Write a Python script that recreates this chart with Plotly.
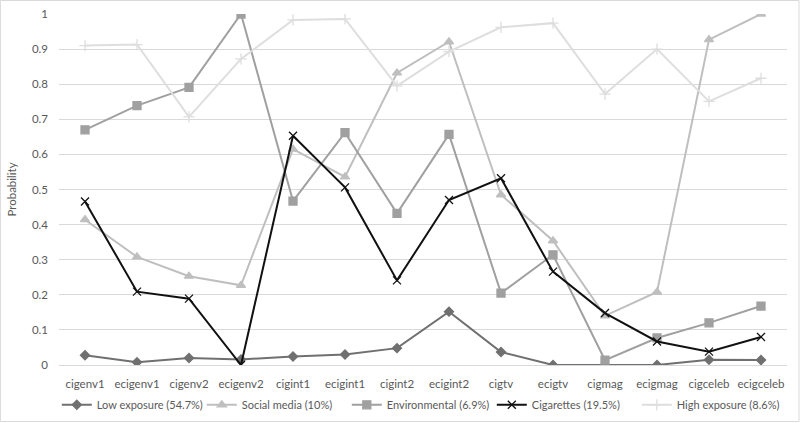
import plotly.graph_objects as go

# ─── Datos ───────────────────────────────────────────────────────────────
categorias = ["cigenv1", "ecigenv1", "cigenv2", "ecigenv2", "cigint1", "ecigint1",
              "cigint2", "ecigint2", "cigtv", "ecigtv", "cigmag", "ecigmag",
              "cigceleb", "ecigceleb"]

low_exposure  = [0.028, 0.008, 0.020, 0.016, 0.024, 0.030, 0.048, 0.152, 0.037, 0.0, 0.0, 0.0, 0.015, 0.014]
social_media  = [0.414, 0.308, 0.253, 0.227, 0.615, 0.536, 0.832, 0.921, 0.485, 0.354, 0.140, 0.208, 0.927, 1.0]
environmental = [0.670, 0.739, 0.791, 1.0, 0.467, 0.662, 0.432, 0.657, 0.205, 0.314, 0.014, 0.077, 0.120, 0.168]
cigarettes    = [0.466, 0.209, 0.189, 0.0, 0.653, 0.506, 0.241, 0.470, 0.532, 0.266, 0.148, 0.067, 0.038, 0.080]
high_exposure = [0.910, 0.913, 0.707, 0.872, 0.983, 0.986, 0.795, 0.893, 0.962, 0.974, 0.772, 0.900, 0.751, 0.817]

ticks_y = [0, 0.1, 0.2, 0.3, 0.4, 0.5, 0.6, 0.7, 0.8, 0.9, 1]
etiquetas_y = ["0", "0.1", "0.2", "0.3", "0.4", "0.5", "0.6", "0.7", "0.8", "0.9", "1"]

FUENTE = "Lato, sans-serif"
TEXTO = "#595959"

series = [
    ("Low exposure (54.7%)",  low_exposure,  "#707070", "diamond",         7),
    ("Social media (10%)",    social_media,  "#bfbfbf", "triangle-up",     8),
    ("Environmental (6.9%)",  environmental, "#a0a0a0", "square",          8),
    ("Cigarettes (19.5%)",    cigarettes,    "#111111", "x-thin-open",     8),
    ("High exposure (8.6%)",  high_exposure, "#dedede", "cross-thin-open", 8),
]

fig = go.Figure()

for nombre, valores, color, simbolo, tam in series:
    fig.add_trace(go.Scatter(
        x=categorias, y=valores,
        mode="lines+markers",
        name=nombre,
        line=dict(color=color, width=2),
        marker=dict(symbol=simbolo, size=tam, color=color,
                    line=dict(color=color, width=1.3)),
    ))

# marco exterior del gráfico
fig.add_shape(type="rect", xref="paper", yref="paper",
              x0=-0.0805, x1=1.0165, y0=-0.161, y1=1.0385,
              line=dict(color="#d9d9d9", width=1), fillcolor="rgba(0,0,0,0)")

fig.update_layout(
    width=800, height=423,
    margin=dict(l=59, r=13, t=14, b=58, autoexpand=False),
    plot_bgcolor="white",
    paper_bgcolor="white",
    font=dict(family=FUENTE, size=11.5, color=TEXTO),
    showlegend=True,
    legend=dict(orientation="h", xref="container", yref="container",
                x=0.071, xanchor="left", y=0.043, yanchor="middle",
                bgcolor="rgba(0,0,0,0)", entrywidth=100, entrywidthmode="pixels",
                font=dict(size=11, color=TEXTO), itemwidth=30, tracegroupgap=0),
    xaxis=dict(
        type="category",
        range=[-0.5, len(categorias) - 0.5],
        showgrid=False, zeroline=False, showline=False,
        ticks="", ticklabelstandoff=10, tickfont=dict(size=11.5, color=TEXTO),
    ),
    yaxis=dict(
        title=dict(text="Probability", font=dict(size=11.5, color=TEXTO), standoff=12),
        range=[0, 1], tickvals=ticks_y, ticktext=etiquetas_y,
        showgrid=True, gridcolor="#d9d9d9", gridwidth=1,
        zeroline=True, zerolinecolor="#d9d9d9", zerolinewidth=1,
        showline=False, ticks="", ticklabelstandoff=10,
        tickfont=dict(size=11.5, color=TEXTO),
    ),
)

# la página no debe tener margen propio: la figura ocupa la ventana entera
fig.write_html("out.html", config={"displayModeBar": False},
               post_script="document.body.style.margin='0';")
